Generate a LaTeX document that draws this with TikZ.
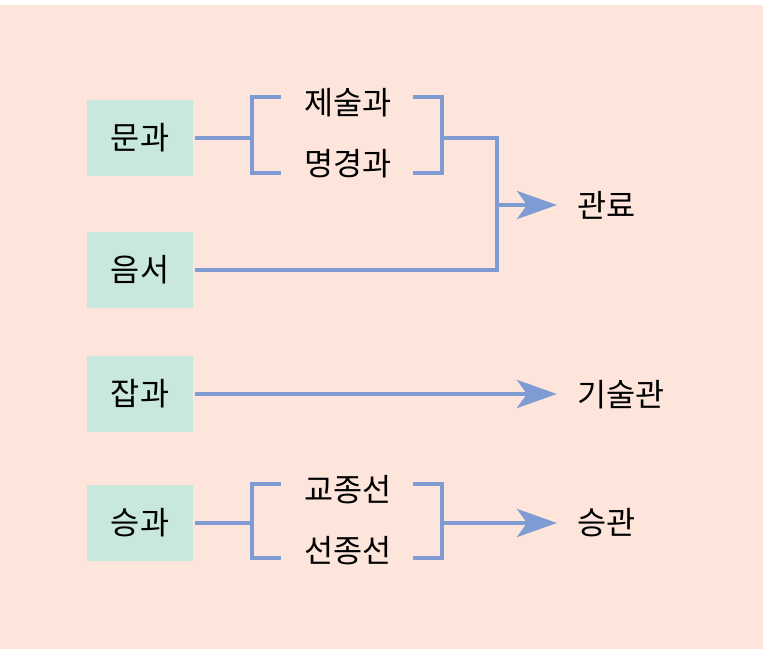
\documentclass[tikz,border=0pt]{standalone}
\usepackage{fontspec}
\newfontfamily\kr{Noto Sans CJK KR}
\usetikzlibrary{arrows.meta}
\definecolor{bgpeach}{RGB}{253,229,220}
\definecolor{boxmint}{RGB}{200,232,220}
\definecolor{linkblue}{RGB}{127,155,211}

\begin{document}
\begin{tikzpicture}[
            x = 0.03cm, y = -0.03cm, % one unit is one pixel of the sketch
            > = {Stealth[length=1.2cm, width=0.84cm, inset=0.3cm]}, % arrow head style
            line width = 0.13cm, % line style
            font = \kr\fontsize{27}{32}\selectfont
        ]

        \tikzstyle{source}=[
            fill = boxmint,
            minimum width = 3.18cm,
            minimum height = 2.3cm,
            inner sep = 0pt
        ]
        \tikzstyle{target}=[anchor = west, inner sep = 0pt]
        \tikzstyle{branch}=[inner sep = 0pt]
        \tikzstyle{link}=[draw = linkblue]

        \useasboundingbox (0,0) rectangle (774,649);
        \fill[bgpeach] (0,5) rectangle (763,649);

        \node[source] (mg) at (140,138) {문과};
        \node[source] (ys) at (140,270) {음서};
        \node[source] (jg) at (140,394) {잡과};
        \node[source] (sg) at (140,523) {승과};

        \node[branch] (js) at (348,103) {제술과};
        \node[branch] (mk) at (348,164) {명경과};
        \node[branch] (gj) at (348,490) {교종선};
        \node[branch] (sj) at (348,551) {선종선};

        \node[target] (gr) at (575,205) {관료};
        \node[target] (gs) at (575,395) {기술관};
        \node[target] (sk) at (575,523) {승관};

        \coordinate (l1) at (252,135);
        \coordinate (r1) at (442,135);
        \coordinate (j1) at (497,205);
        \coordinate (l2) at (252,521);
        \coordinate (r2) at (442,521);

        % brackets
        \draw[link] (l1) ++(29,-38) -- ++(-29,0) -- ++(0,76) -- ++(29,0);
        \draw[link] (r1) ++(-29,-38) -- ++(29,0) -- ++(0,76) -- ++(-29,0);
        \draw[link] (l2) ++(29,-37) -- ++(-29,0) -- ++(0,74) -- ++(29,0);
        \draw[link] (r2) ++(-29,-37) -- ++(29,0) -- ++(0,74) -- ++(-29,0);

        \draw[link] (mg.east) -- (mg.east -| l1);
        \draw[link] (mg -| r1) -| (j1) |- (ys.east);
        \draw[link, ->, shorten >=0.54cm] (j1) -- (j1 -| gr.west);

        \draw[link, ->, shorten >=0.54cm] (jg.east) -- (jg.east -| gs.west);

        \draw[link] (sg.east) -- (sg.east -| l2);
        \draw[link, ->, shorten >=0.54cm] (sg -| r2) -- (sg -| sk.west);

        %\draw[red, dashed] (0,0) rectangle (774,649);
    \end{tikzpicture}
\end{document}
